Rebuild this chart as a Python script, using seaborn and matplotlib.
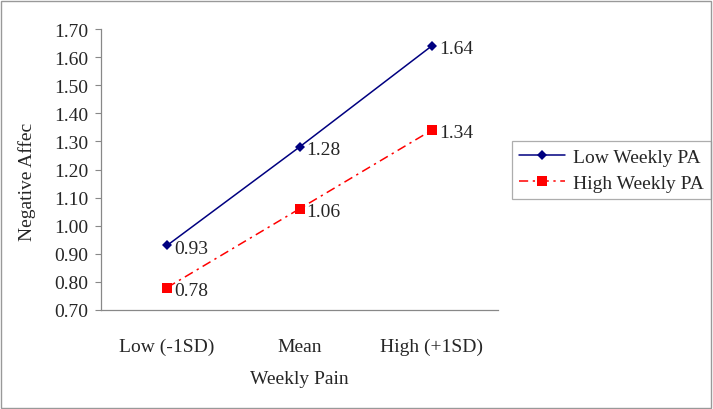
import matplotlib
matplotlib.use("Agg")
import matplotlib.pyplot as plt
import seaborn as sns
import pandas as pd
from matplotlib.patches import Rectangle

categories = ["Low (-1SD)", "Mean", "High (+1SD)"]
low_pa = [0.93, 1.28, 1.64]
high_pa = [0.78, 1.06, 1.34]
series_names = ["Low Weekly PA", "High Weekly PA"]
y_ticks = [0.70, 0.80, 0.90, 1.00, 1.10, 1.20, 1.30, 1.40, 1.50, 1.60, 1.70]

df = pd.DataFrame({
    "pain": categories * 2,
    "na": low_pa + high_pa,
    "group": [series_names[0]] * 3 + [series_names[1]] * 3,
})

sns.set_style("white")
plt.rcParams["font.family"] = ["Liberation Serif", "DejaVu Serif"]
FS = 14

fig = plt.figure(figsize=(7.13, 4.10), dpi=100)
ax = fig.add_axes([101 / 713, 1 - 311 / 410, 397 / 713, 281 / 410])

styles = {
    series_names[0]: dict(color="#000080", marker="D", markersize=5, linestyle="-", lw=1.1),
    series_names[1]: dict(color="#FF0000", marker="s", markersize=7, linestyle=(0, (6, 3, 1.5, 3)), lw=1.1),
}
for name in series_names:
    sub = df[df["group"] == name]
    st = styles[name]
    sns.lineplot(data=sub, x="pain", y="na", ax=ax, sort=False, label=name,
                 color=st["color"], marker=st["marker"], markersize=st["markersize"],
                 markeredgewidth=0, linestyle=st["linestyle"], linewidth=st["lw"])
    for i, v in enumerate(sub["na"]):
        ax.annotate(f"{v:.2f}", (i, v), xytext=(5, -2), textcoords="offset points",
                    ha="left", va="center", fontsize=FS)

ax.set_xlim(-0.5, 2.5)
ax.set_ylim(0.70, 1.70)
ax.set_yticks(y_ticks)
ax.set_yticklabels([f"{t:.2f}" for t in y_ticks], fontsize=FS)
ax.set_xticks(range(3))
ax.set_xticklabels(categories, fontsize=FS)
ax.tick_params(axis="x", length=0, pad=20)
ax.tick_params(axis="y", length=4, width=0.8, color="#888888", direction="out", left=True, pad=5)
for s in ["top", "right"]:
    ax.spines[s].set_visible(False)
for s in ["left", "bottom"]:
    ax.spines[s].set_color("#888888")
    ax.spines[s].set_linewidth(0.9)
ax.set_xlabel("Weekly Pain", fontsize=FS, labelpad=11)
ax.set_ylabel("Negative Affec", fontsize=FS)
ax.yaxis.set_label_coords(-65 / 397, 0.46)

# legend box at about x 512-708, y 141-201 in figure pixels
leg = ax.legend(loc="center left", bbox_to_anchor=((512 - 101) / 397, (311 - 171) / 281),
                frameon=True, fancybox=False, fontsize=FS, handlelength=2.4,
                borderpad=0.35, labelspacing=0.45, handletextpad=0.4, borderaxespad=0)
leg.get_frame().set_edgecolor("#999999")
leg.get_frame().set_linewidth(0.9)

fig.patches.append(Rectangle((0.002, 0.003), 0.995, 0.993, transform=fig.transFigure,
                             fill=False, edgecolor="#999999", linewidth=1.0))

fig.savefig("out.png", dpi=100)
